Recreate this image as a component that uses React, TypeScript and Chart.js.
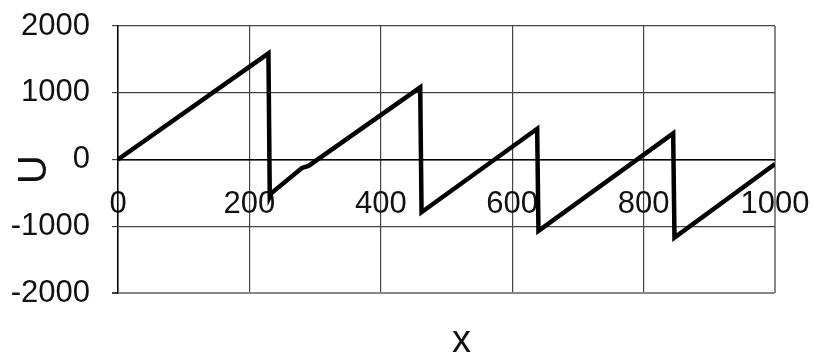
import React, { useEffect, useRef } from "react";
import { Chart, registerables } from "chart.js";

Chart.register(...registerables);

const xValues = [0, 229, 231, 234, 280, 290, 460, 462, 638, 640, 845, 847, 1000];
const uValues = [0, 1590, -560, -500, -127, -95, 1080, -790, 460, -1070, 390, -1170, -67];
const xTickValues = [0, 200, 400, 600, 800, 1000];
const yTickValues = [-2000, -1000, 0, 1000, 2000];
const xTitle = "x";
const yTitle = "U";

const FONT = '"Liberation Sans", Arial, sans-serif';

const titlesPlugin = {
  id: "axisTitlesCustom",
  afterDraw(chart: any) {
    const { ctx, chartArea } = chart;
    ctx.save();
    ctx.fillStyle = "#111";
    ctx.textAlign = "center";
    ctx.textBaseline = "middle";
    ctx.font = `38px ${FONT}`;
    ctx.fillText(xTitle, chartArea.left + (chartArea.right - chartArea.left) * 0.523, 342);
    ctx.translate(33, (chartArea.top + chartArea.bottom) / 2 + 10);
    ctx.rotate(-Math.PI / 2);
    ctx.font = `40px ${FONT}`;
    ctx.fillText(yTitle, 0, 2);
    ctx.restore();
  },
};

export default function App() {
  const ref = useRef<HTMLCanvasElement | null>(null);

  useEffect(() => {
    document.body.style.margin = "0";
    const canvas = ref.current;
    if (!canvas) return;
    const chart = new Chart(canvas, {
      type: "scatter",
      data: {
        datasets: [
          {
            data: xValues.map((x, i) => ({ x, y: uValues[i] })),
            showLine: true,
            borderColor: "#000",
            borderWidth: 4.5,
            pointRadius: 0,
            pointHoverRadius: 0,
            borderJoinStyle: "miter",
            tension: 0,
          },
        ],
      },
      options: {
        animation: false,
        responsive: false,
        events: [],
        layout: { padding: { left: 0, right: 38, top: 26, bottom: 59 } },
        plugins: {
          legend: { display: false },
          tooltip: { enabled: false },
          title: { display: false },
        },
        scales: {
          x: {
            type: "linear",
            position: { y: 0 } as any,
            min: 0,
            max: 1000,
            afterBuildTicks: (scale: any) => {
              scale.ticks = xTickValues.map((v) => ({ value: v }));
            },
            afterFit: (scale: any) => {
              scale.paddingLeft = 0;
              scale.paddingRight = 0;
              scale.paddingTop = 0;
              scale.paddingBottom = 0;
            },
            ticks: {
              color: "#111",
              font: { family: FONT, size: 31 },
              padding: 26,
              maxRotation: 0,
              autoSkip: false,
              callback: (v: any) => String(v),
            },
            grid: {
              drawTicks: false,
              color: (c: any) => (c.tick && c.tick.value === 1000 ? "#888" : "#444"),
              lineWidth: (c: any) => (c.tick && c.tick.value === 1000 ? 2 : 1.2),
            },
            border: { display: true, color: "#000", width: 1.5 },
          },
          y: {
            type: "linear",
            position: "left",
            min: -2000,
            max: 2000,
            afterBuildTicks: (scale: any) => {
              scale.ticks = yTickValues.map((v) => ({ value: v }));
            },
            afterFit: (scale: any) => {
              scale.width = 118;
              scale.paddingTop = 0;
              scale.paddingBottom = 0;
              scale.paddingLeft = 0;
              scale.paddingRight = 0;
            },
            ticks: {
              color: "#111",
              font: { family: FONT, size: 31 },
              padding: 22,
              autoSkip: false,
              callback: (v: any) => String(v),
            },
            grid: {
              drawTicks: true,
              tickLength: 6,
              tickColor: "#444",
              color: (c: any) => (c.tick && c.tick.value === -2000 ? "#888" : "#444"),
              lineWidth: (c: any) => (c.tick && c.tick.value === -2000 ? 2 : 1.2),
            },
            border: { display: true, color: "#000", width: 1.5 },
          },
        },
      },
      plugins: [titlesPlugin],
    } as any);
    return () => chart.destroy();
  }, []);

  return (
    <div style={{ width: 813, height: 352, background: "#fff" }}>
      <canvas ref={ref} width={813} height={352} style={{ display: "block" }} />
    </div>
  );
}
